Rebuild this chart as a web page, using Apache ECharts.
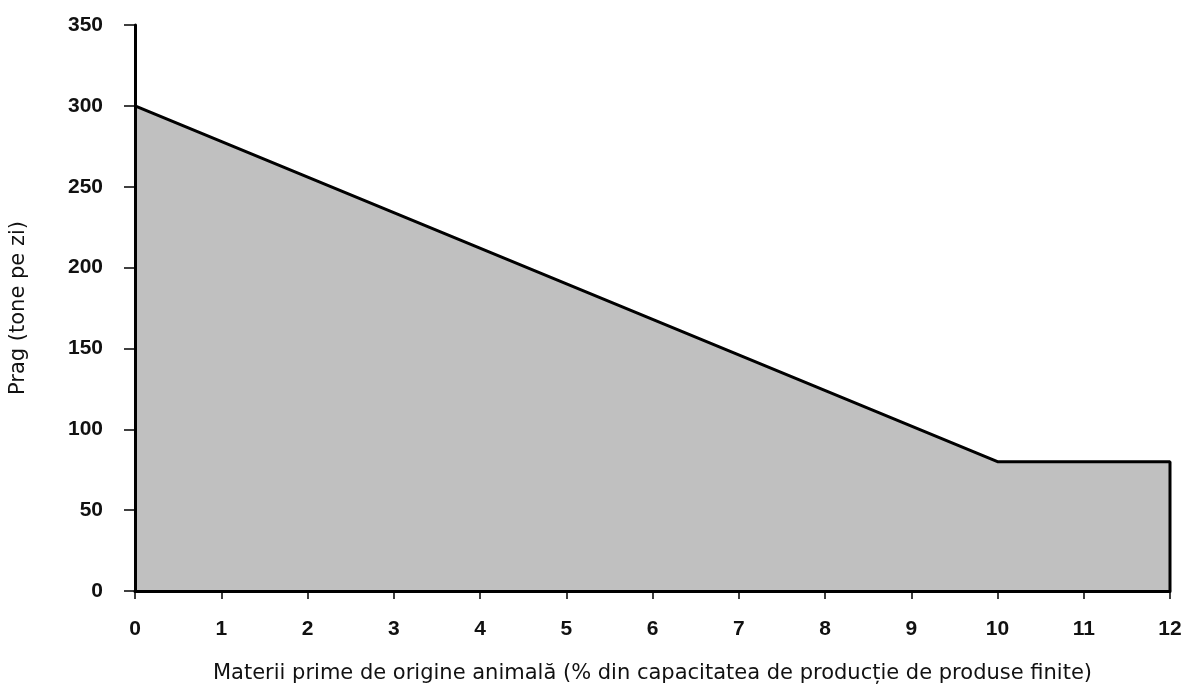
<!DOCTYPE html>
<html>
<head>
<meta charset="utf-8">
<script src="https://cdn.jsdelivr.net/npm/echarts@6/dist/echarts.min.js"></script>
<style>
  html, body { margin: 0; padding: 0; background: #fff; }
  #main { width: 1186px; height: 689px; }
</style>
</head>
<body>
<div id="main"></div>
<script>
var xValues = [0, 10, 12, 12];
var pragValues = [300, 80, 80, 0];
var xTicks = [0, 1, 2, 3, 4, 5, 6, 7, 8, 9, 10, 11, 12];
var yTicks = [0, 50, 100, 150, 200, 250, 300, 350];

var mychart = echarts.init(document.getElementById('main'));
var font = '"DejaVu Sans", sans-serif';
var tickFont = '"Liberation Sans", Arial, sans-serif';

var option = {
  animation: false,
  grid: { left: 134, right: 16, top: 25, bottom: 97 },
  xAxis: {
    type: 'value',
    z: 5,
    min: xTicks[0],
    max: xTicks[xTicks.length - 1],
    interval: 1,
    name: 'Materii prime de origine animală (% din capacitatea de producție de produse finite)',
    nameLocation: 'middle',
    nameGap: 72,
    nameTextStyle: { fontFamily: font, fontSize: 21, color: '#111' },
    axisLine: { lineStyle: { color: '#000', width: 3 } },
    axisTick: { length: 8, lineStyle: { color: '#000', width: 1.5 } },
    axisLabel: { fontFamily: tickFont, fontSize: 21, fontWeight: 'bold', color: '#111', margin: 28 },
    splitLine: { show: false }
  },
  yAxis: {
    type: 'value',
    z: 5,
    min: yTicks[0],
    max: yTicks[yTicks.length - 1],
    interval: 50,
    name: 'Prag (tone pe zi)',
    nameLocation: 'middle',
    nameGap: 106,
    nameRotate: 90,
    nameTextStyle: { fontFamily: font, fontSize: 21, color: '#111' },
    axisLine: { show: true, lineStyle: { color: '#000', width: 3 } },
    axisTick: { show: true, length: 11, lineStyle: { color: '#000', width: 1.5 } },
    axisLabel: { fontFamily: tickFont, fontSize: 21, fontWeight: 'bold', color: '#111', margin: 32 },
    splitLine: { show: false }
  },
  series: [
    {
      type: 'line',
      data: xValues.map(function (x, i) { return [x, pragValues[i]]; }),
      showSymbol: false,
      lineStyle: { color: '#000', width: 3 },
      areaStyle: { color: '#c0c0c0', opacity: 1 }
    }
  ]
};
mychart.setOption(option);
</script>
</body>
</html>
